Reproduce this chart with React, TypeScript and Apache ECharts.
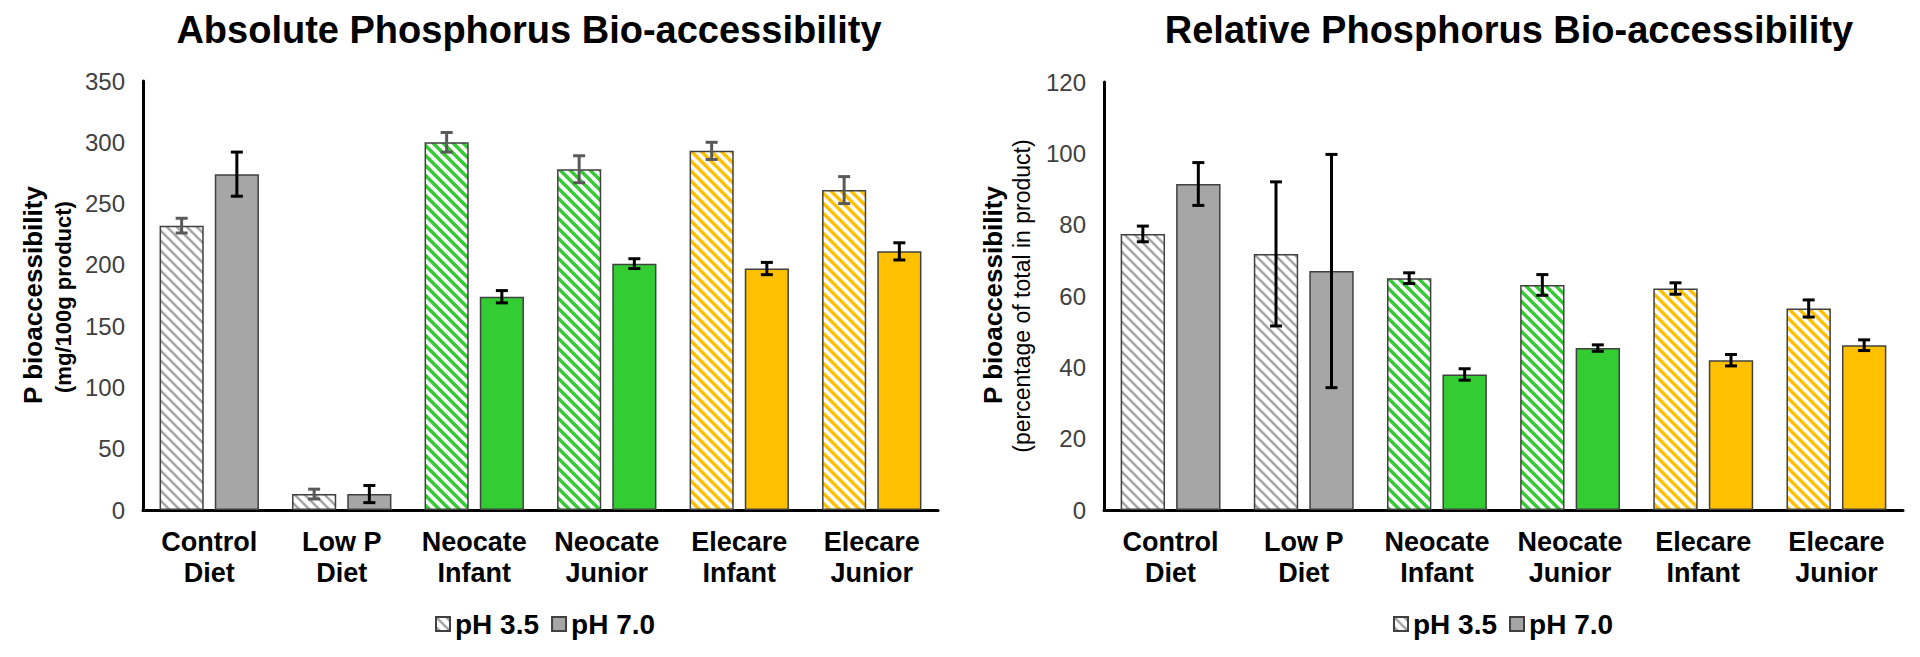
import React, { useEffect, useRef } from "react";
import * as echarts from "echarts";

const categories = ["Control\nDiet", "Low P\nDiet", "Neocate\nInfant", "Neocate\nJunior", "Elecare\nInfant", "Elecare\nJunior"];
const seriesNames = ["pH 3.5", "pH 7.0"];
const groupColors = ["#a6a6a6", "#a6a6a6", "#33cc33", "#33cc33", "#ffc000", "#ffc000"];

const absPH35 = [232, 13, 300, 278, 293, 261];
const absPH35Err = [6, 4, 8, 11, 7, 11];
const absPH70 = [274, 13, 174, 201, 197, 211];
const absPH70Err = [18, 7, 5, 4, 5, 7];

const relPH35 = [77.4, 71.8, 65, 63.1, 62.1, 56.5];
const relPH35Err = [2.2, 20.2, 1.5, 2.9, 1.6, 2.4];
const relPH70 = [91.4, 67, 38, 45.4, 42, 46.2];
const relPH70Err = [6, 32.7, 1.6, 0.9, 1.6, 1.5];

const titles = ["Absolute Phosphorus Bio-accessibility", "Relative Phosphorus Bio-accessibility"];
const yTitles = ["P bioaccessibility", "P bioaccessibility"];
const ySubTitles = ["(mg/100g product)", "(percentage of total in product)"];

const FONT = "'Liberation Sans', Arial, sans-serif";

function stripe(color: string, sw: number) {
  const svg = `<svg xmlns='http://www.w3.org/2000/svg' width='10' height='10'><rect width='10' height='10' fill='white'/><path d='M-5,5 L5,15 M0,0 L10,10 M5,-5 L15,5' stroke='${color}' stroke-width='${sw}' fill='none'/></svg>`;
  return {
    image: "data:image/svg+xml;charset=utf-8," + encodeURIComponent(svg),
    repeat: "repeat",
    imageWidth: 10,
    imageHeight: 10,
  } as any;
}

function barSeries(name: string, values: number[], idx: number, hatched: boolean) {
  return {
    type: "bar",
    name,
    xAxisIndex: idx,
    yAxisIndex: idx,
    barCategoryGap: "25%",
    barGap: "25%",
    itemStyle: {
      color: hatched ? stripe("#a6a6a6", 2.6) : "#a6a6a6",
      borderColor: "#404040",
      borderWidth: 1.5,
    },
    data: values.map((v, i) => ({
      value: v,
      itemStyle: {
        color: hatched ? stripe(groupColors[i], groupColors[i] === "#a6a6a6" ? 2.6 : 3.4) : groupColors[i],
      },
    })),
  };
}

function errSeries(name: string, values: number[], errs: number[], idx: number, sign: number, color: string) {
  return {
    type: "custom",
    name,
    xAxisIndex: idx,
    yAxisIndex: idx,
    z: 10,
    encode: { x: 0, y: [1, 2] },
    data: values.map((v, i) => [i, v - errs[i], v + errs[i]]),
    renderItem: (params: any, api: any) => {
      const cat = api.value(0);
      const lo = api.value(1);
      const hi = api.value(2);
      const bw = api.size([1, 0])[0];
      const w = bw / 3;
      const off = sign * 0.625 * w;
      const pLo = api.coord([cat, lo]);
      const pHi = api.coord([cat, hi]);
      const x = pLo[0] + off;
      const cap = 6;
      const style = { stroke: color, lineWidth: 3 };
      return {
        type: "group",
        children: [
          { type: "line", shape: { x1: x, y1: pLo[1], x2: x, y2: pHi[1] }, style },
          { type: "line", shape: { x1: x - cap, y1: pHi[1], x2: x + cap, y2: pHi[1] }, style },
          { type: "line", shape: { x1: x - cap, y1: pLo[1], x2: x + cap, y2: pLo[1] }, style },
        ],
      };
    },
  };
}

export default function App() {
  const ref = useRef<HTMLDivElement>(null);
  useEffect(() => {
    if (!ref.current) return;
    const chart = echarts.init(ref.current, null, { renderer: "svg" });
    const axisLineStyle = { show: true, lineStyle: { color: "#000", width: 3 } };
    const xAxisBase = {
      type: "category",
      data: categories,
      axisLine: axisLineStyle,
      axisTick: { show: false },
      axisLabel: {
        interval: 0,
        margin: 16,
        fontFamily: FONT,
        fontWeight: "bold",
        fontSize: 27,
        lineHeight: 31,
        color: "#000",
      },
    };
    const yAxisBase = (max: number, interval: number) => ({
      type: "value",
      min: 0,
      max,
      interval,
      axisLine: axisLineStyle,
      axisTick: { show: false },
      splitLine: { show: false },
      axisLabel: { margin: 18, fontFamily: FONT, fontSize: 24, color: "#404040" },
    });
    const legendBase = {
      data: seriesNames,
      top: 609,
      padding: 0,
      icon: "rect",
      itemWidth: 14,
      itemHeight: 14,
      itemGap: 12,
      textStyle: { fontFamily: FONT, fontWeight: "bold", fontSize: 28, color: "#000", lineHeight: 30 },
    };
    const option: any = {
      animation: false,
      backgroundColor: "#fff",
      grid: [
        { left: 143, top: 81, width: 795, height: 429 },
        { left: 1104, top: 82, width: 799, height: 428 },
      ],
      xAxis: [
        { ...xAxisBase, gridIndex: 0 },
        { ...xAxisBase, gridIndex: 1 },
      ],
      yAxis: [
        { ...yAxisBase(350, 50), gridIndex: 0 },
        { ...yAxisBase(120, 20), gridIndex: 1 },
      ],
      legend: [
        { ...legendBase, left: 435 },
        { ...legendBase, left: 1393 },
      ],
      graphic: [
        { type: "text", x: 529, y: 30, style: { text: titles[0], font: `bold 38px ${FONT}`, fill: "#000", align: "center", verticalAlign: "middle" } },
        { type: "text", x: 1509, y: 30, style: { text: titles[1], font: `bold 38px ${FONT}`, fill: "#000", align: "center", verticalAlign: "middle" } },
        { type: "text", x: 33, y: 295, rotation: Math.PI / 2, style: { text: yTitles[0], font: `bold 26px ${FONT}`, fill: "#000", align: "center", verticalAlign: "middle" } },
        { type: "text", x: 63, y: 297, rotation: Math.PI / 2, style: { text: ySubTitles[0], font: `bold 22px ${FONT}`, fill: "#000", align: "center", verticalAlign: "middle" } },
        { type: "text", x: 993, y: 295, rotation: Math.PI / 2, style: { text: yTitles[1], font: `bold 26px ${FONT}`, fill: "#000", align: "center", verticalAlign: "middle" } },
        { type: "text", x: 1022, y: 296, rotation: Math.PI / 2, style: { text: ySubTitles[1], font: `23px ${FONT}`, fill: "#000", align: "center", verticalAlign: "middle" } },
      ],
      series: [
        barSeries(seriesNames[0], absPH35, 0, true),
        barSeries(seriesNames[1], absPH70, 0, false),
        barSeries(seriesNames[0], relPH35, 1, true),
        barSeries(seriesNames[1], relPH70, 1, false),
        errSeries("err35a", absPH35, absPH35Err, 0, -1, "#595959"),
        errSeries("err70a", absPH70, absPH70Err, 0, 1, "#000"),
        errSeries("err35r", relPH35, relPH35Err, 1, -1, "#000"),
        errSeries("err70r", relPH70, relPH70Err, 1, 1, "#000"),
      ],
    };
    chart.setOption(option);
    return () => chart.dispose();
  }, []);
  return <div ref={ref} style={{ position: "absolute", left: 0, top: 0, width: 1920, height: 657 }} />;
}
